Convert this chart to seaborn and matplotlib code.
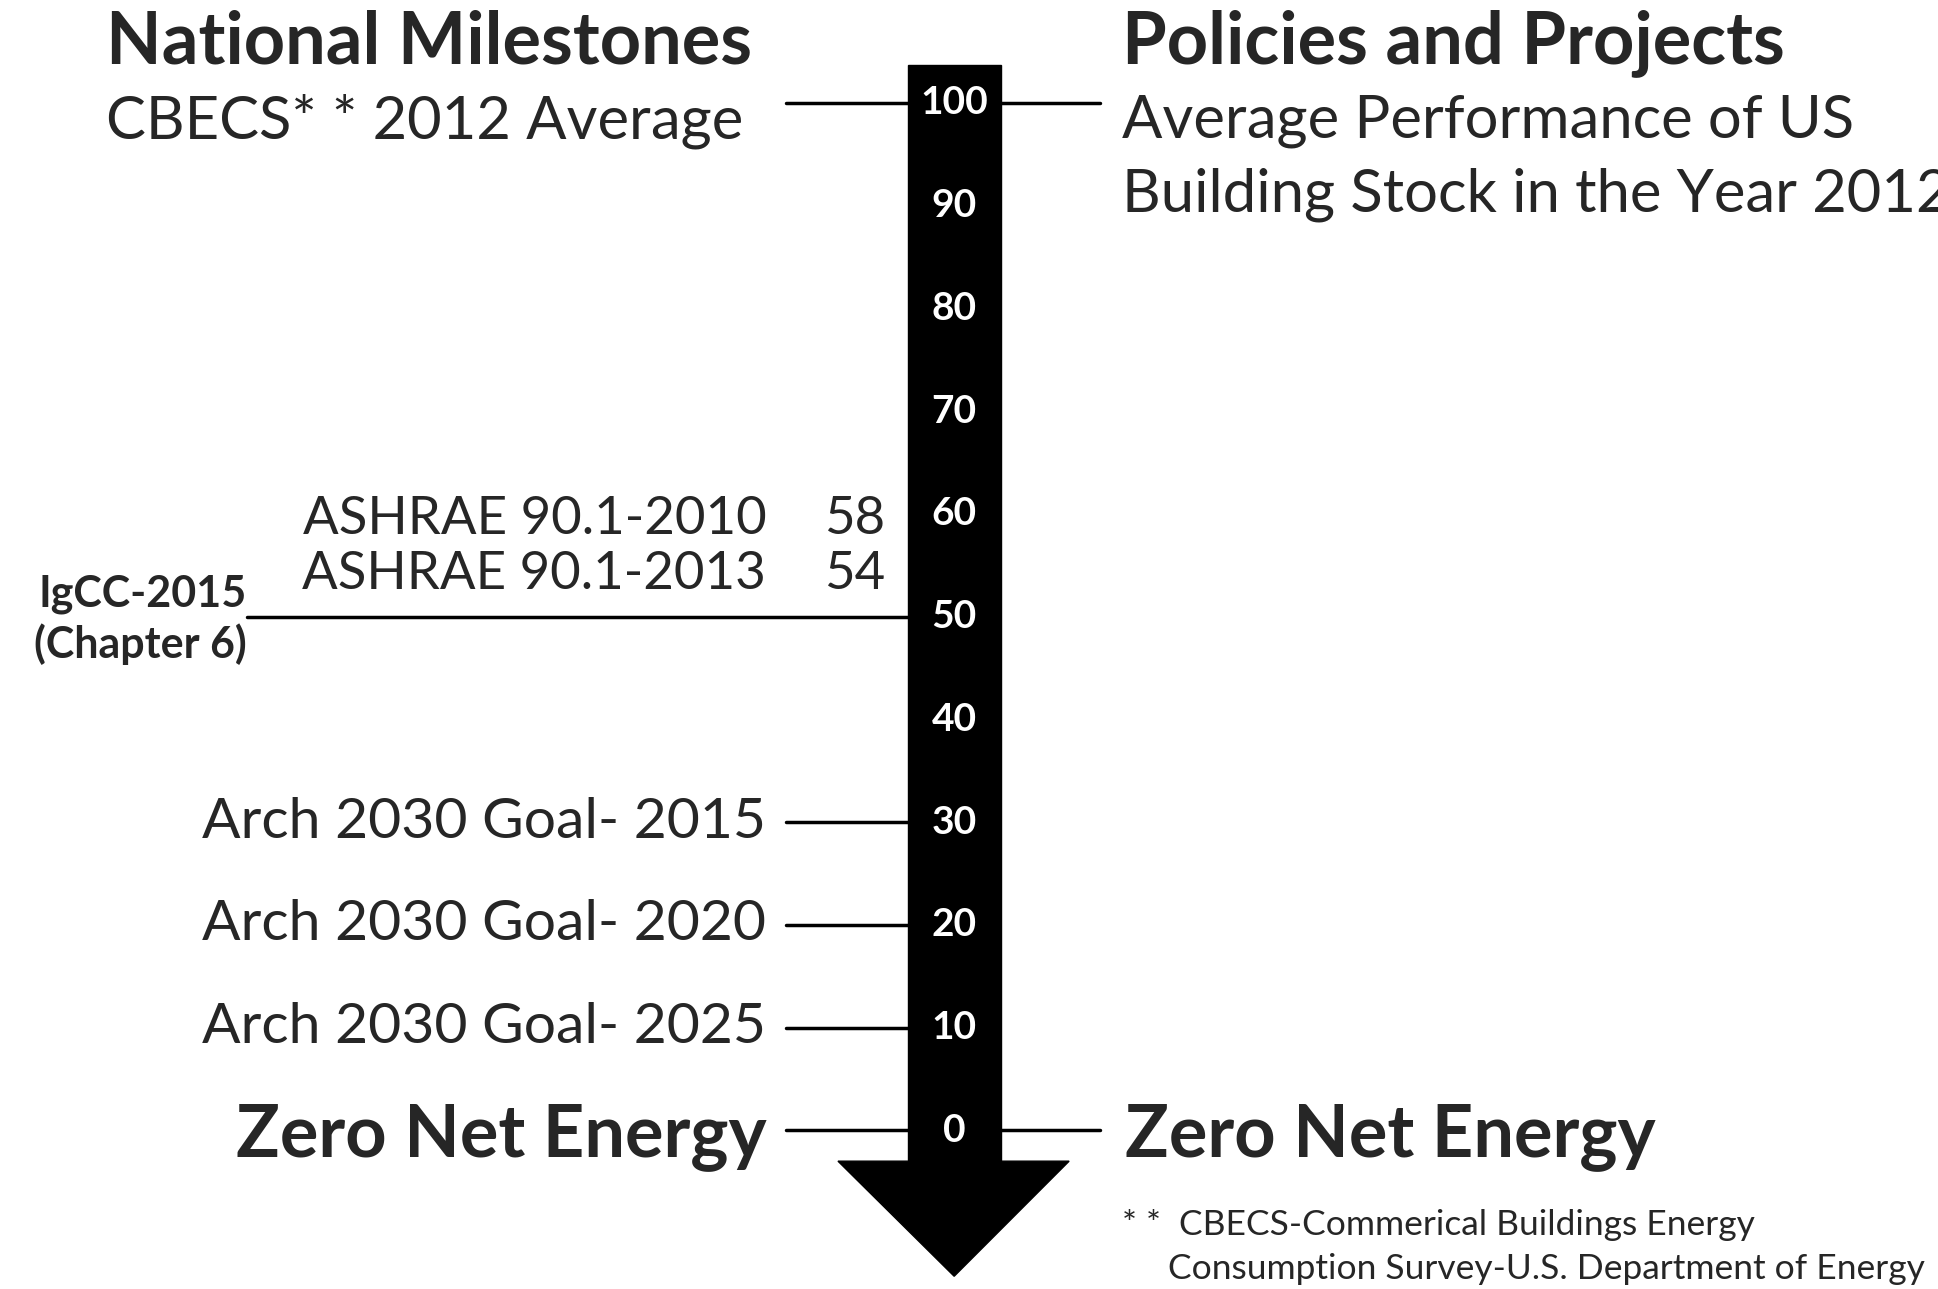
import matplotlib
matplotlib.use("Agg")
import matplotlib.pyplot as plt
import seaborn as sns
import pandas as pd
from matplotlib.patches import Polygon, Rectangle

ticks = [0, 10, 20, 30, 40, 50, 60, 70, 80, 90, 100]
milestone_names = ["Arch 2030 Goal- 2015", "Arch 2030 Goal- 2020", "Arch 2030 Goal- 2025"]
milestone_vals = [30, 20, 10]
ashrae_names = ["ASHRAE 90.1-2010", "ASHRAE 90.1-2013"]
ashrae_vals = [58, 54]
ashrae_text_y = [59.4, 54.1]
igcc_val = 50

sns.set_theme(style="white")
plt.rcParams["font.family"] = "Lato"
fig = plt.figure(figsize=(19.38, 12.89), dpi=100)
ax = fig.add_axes([0, 0, 1, 1])
ax.set_xlim(0, 1568)
ax.set_ylim(-15.44, 110.0)
ax.axis("off")

rows = []
def seg(uid, x0, x1, v):
    rows.append(dict(u=uid, x=x0, y=v)); rows.append(dict(u=uid, x=x1, y=v))
seg(0, 636, 736, 100); seg(1, 809, 890, 100)
seg(2, 636, 736, 0); seg(3, 809, 890, 0)
seg(4, 200, 736, igcc_val)
for i, v in enumerate(milestone_vals):
    seg(5 + i, 636, 736, v)
df = pd.DataFrame(rows)
sns.lineplot(data=df, x="x", y="y", units="u", estimator=None, color="black", lw=2.5, ax=ax, legend=False)

ax.add_patch(Rectangle((735, -3.0), 75, 106.7, color="black", zorder=3))
ax.add_patch(Polygon([(678, -3.0), (865, -3.0), (772, -14.2)], closed=True, color="black", zorder=3))
for t in ticks:
    ax.text(772, t, str(t), color="white", fontsize=28, fontweight="bold", ha="center", va="center", zorder=4)

ax.text(86, 105.8, "National Milestones", fontsize=52, fontweight="bold", ha="left", va="center")
ax.text(86, 98.2, "CBECS* * 2012 Average", fontsize=43, ha="left", va="center")
ax.text(908, 105.8, "Policies and Projects", fontsize=52, fontweight="bold", ha="left", va="center")
ax.text(908, 98.2, "Average Performance of US", fontsize=43, ha="left", va="center")
ax.text(908, 91.0, "Building Stock in the Year 2012", fontsize=43, ha="left", va="center")

for n, ty, v in zip(ashrae_names, ashrae_text_y, ashrae_vals):
    ax.text(620, ty, n, fontsize=38, ha="right", va="center")
    ax.text(716, ty, str(v), fontsize=38, ha="right", va="center")
ax.text(200, 52.2, "IgCC-2015", fontsize=31, fontweight="bold", ha="right", va="center")
ax.text(200, 47.3, "(Chapter 6)", fontsize=31, fontweight="bold", ha="right", va="center")
for n, v in zip(milestone_names, milestone_vals):
    ax.text(620, v, n, fontsize=41, ha="right", va="center")

ax.text(620, -0.7, "Zero Net Energy", fontsize=52, fontweight="bold", ha="right", va="center")
ax.text(910, -0.7, "Zero Net Energy", fontsize=52, fontweight="bold", ha="left", va="center")
ax.text(908, -9.2, "* *  CBECS-Commerical Buildings Energy", fontsize=25.5, ha="left", va="center")
ax.text(945, -13.5, "Consumption Survey-U.S. Department of Energy", fontsize=25.5, ha="left", va="center")

fig.savefig("out.png", dpi=100, facecolor="white")
